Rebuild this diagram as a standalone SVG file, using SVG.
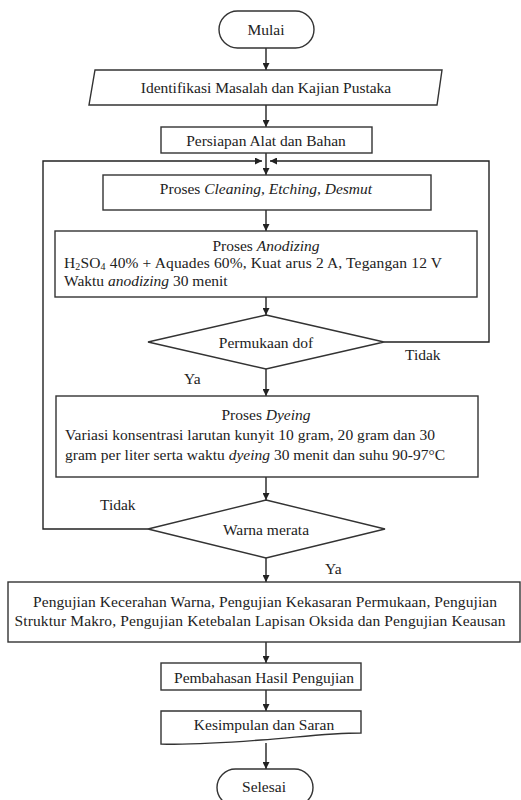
<svg xmlns="http://www.w3.org/2000/svg" width="521" height="800" viewBox="0 0 521 800">
<style>
.s{fill:#fff;stroke:#333;stroke-width:1.4}
.c{fill:none;stroke:#222;stroke-width:1.4}
text{font-family:"Liberation Serif","Times New Roman",serif;font-size:15.5px;fill:#222}
.m{text-anchor:middle}
.i{font-style:italic}
</style>
<defs>
<marker id="ah" viewBox="0 0 10 10" refX="10" refY="5" markerWidth="7" markerHeight="7" markerUnits="userSpaceOnUse" orient="auto">
<path d="M0,0 L10,5 L0,10 Z" fill="#222"/>
</marker>
</defs>
<rect width="521" height="800" fill="#fff"/>
<g id="connectors">
<line class="c" x1="266" y1="48" x2="266" y2="70" marker-end="url(#ah)"/>
<line class="c" x1="266" y1="105" x2="266" y2="127" marker-end="url(#ah)"/>
<line class="c" x1="266" y1="153" x2="266" y2="175" marker-end="url(#ah)"/>
<line class="c" x1="266" y1="210" x2="266" y2="231" marker-end="url(#ah)"/>
<line class="c" x1="266" y1="297" x2="266" y2="315" marker-end="url(#ah)"/>
<line class="c" x1="266" y1="369" x2="266" y2="396" marker-end="url(#ah)"/>
<line class="c" x1="266" y1="477" x2="266" y2="500" marker-end="url(#ah)"/>
<line class="c" x1="266" y1="558" x2="266" y2="582" marker-end="url(#ah)"/>
<line class="c" x1="266" y1="642" x2="266" y2="663" marker-end="url(#ah)"/>
<line class="c" x1="266" y1="690" x2="266" y2="711" marker-end="url(#ah)"/>
<line class="c" x1="266" y1="743" x2="266" y2="769" marker-end="url(#ah)"/>
<polyline class="c" points="384,342 489,342 489,161 270,161" marker-end="url(#ah)"/>
<polyline class="c" points="148,529 43,529 43,161 262,161" marker-end="url(#ah)"/>
</g>
<g id="mulai">
<rect class="s" x="219" y="11" width="95" height="37" rx="18.5"/>
<text class="m" x="266" y="35">Mulai</text>
</g>
<g id="identifikasi">
<polygon class="s" points="95,70 442,70 437,105 89,105"/>
<text class="m" x="266" y="93">Identifikasi Masalah dan Kajian Pustaka</text>
</g>
<g id="persiapan">
<rect class="s" x="161" y="127" width="211" height="26"/>
<text class="m" x="266" y="146">Persiapan Alat dan Bahan</text>
</g>
<g id="cleaning">
<rect class="s" x="103" y="175" width="328" height="35"/>
<text class="m" x="266" y="194">Proses <tspan class="i">Cleaning, Etching, Desmut</tspan></text>
</g>
<g id="anodizing">
<rect class="s" x="55" y="231" width="422" height="66"/>
<text class="m" x="266" y="251">Proses <tspan class="i">Anodizing</tspan></text>
<text x="64" y="268" textLength="378">H<tspan font-size="10" dy="2">2</tspan><tspan dy="-2">SO</tspan><tspan font-size="10" dy="2">4</tspan><tspan dy="-2"> 40% + Aquades 60%, Kuat arus 2 A, Tegangan 12 V</tspan></text>
<text x="64" y="286">Waktu <tspan class="i">anodizing</tspan> 30 menit</text>
</g>
<g id="permukaan">
<polygon class="s" points="266,315 384,342 266,369 148,342"/>
<text class="m" x="266" y="348">Permukaan dof</text>
<text x="405" y="360">Tidak</text>
<text x="184" y="384">Ya</text>
</g>
<g id="dyeing">
<rect class="s" x="56" y="396" width="422" height="81"/>
<text class="m" x="266" y="420">Proses <tspan class="i">Dyeing</tspan></text>
<text x="65" y="440" textLength="370">Variasi konsentrasi larutan kunyit 10 gram, 20 gram dan 30</text>
<text x="65" y="460" textLength="380">gram per liter serta waktu <tspan class="i">dyeing</tspan> 30 menit dan suhu 90-97°C</text>
</g>
<g id="warna">
<polygon class="s" points="266,500 385,529 266,558 148,529"/>
<text class="m" x="266" y="535">Warna merata</text>
<text x="100" y="510">Tidak</text>
<text x="325" y="574">Ya</text>
</g>
<g id="pengujian">
<rect class="s" x="8" y="582" width="512" height="60"/>
<text class="m" x="265" y="607" textLength="464">Pengujian Kecerahan Warna, Pengujian Kekasaran Permukaan, Pengujian</text>
<text class="m" x="260" y="626" textLength="491">Struktur Makro, Pengujian Ketebalan Lapisan Oksida dan Pengujian Keausan</text>
</g>
<g id="pembahasan">
<rect class="s" x="161" y="663" width="200" height="27"/>
<text class="m" x="264" y="683">Pembahasan Hasil Pengujian</text>
</g>
<g id="kesimpulan">
<path class="s" d="M161,711 H361 V733 C330,733 300,737 261,740 S190,745 161,744 Z"/>
<text class="m" x="264" y="730">Kesimpulan dan Saran</text>
</g>
<g id="selesai">
<rect class="s" x="217" y="769" width="96" height="37" rx="18.5"/>
<text class="m" x="264" y="792">Selesai</text>
</g>
</svg>
